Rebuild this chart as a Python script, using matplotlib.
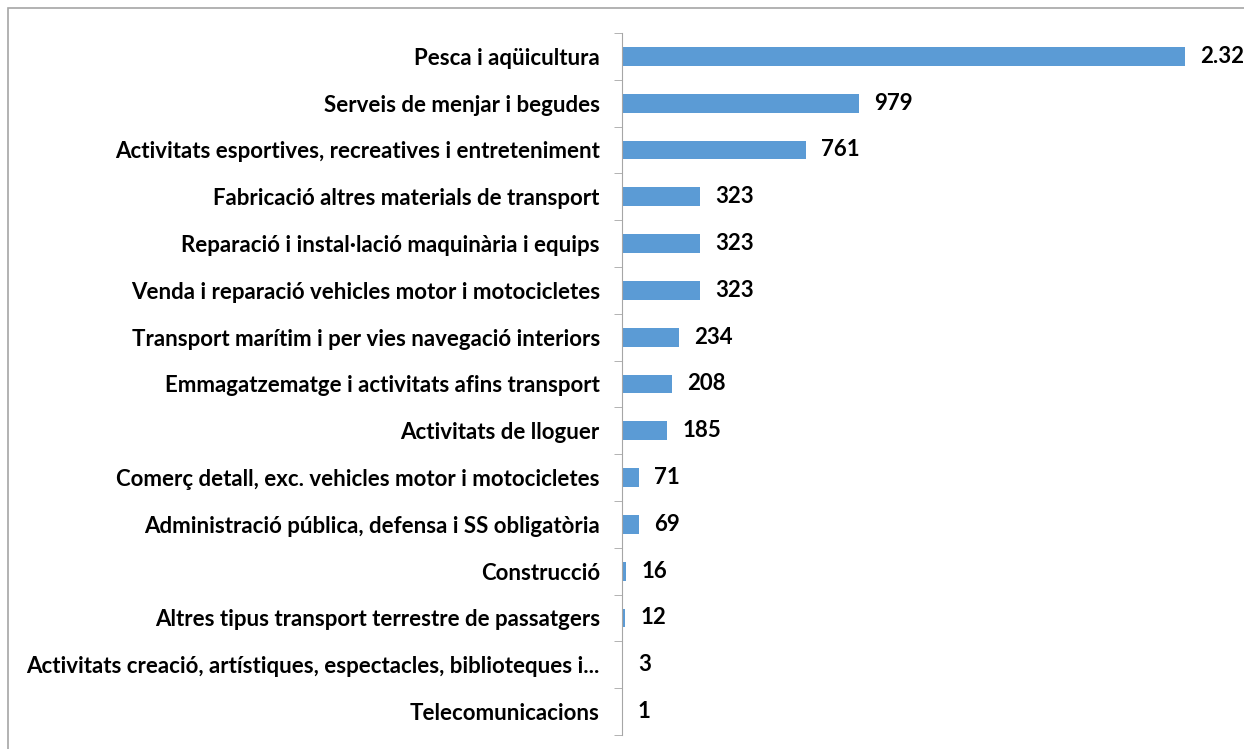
import matplotlib
matplotlib.use("Agg")
import matplotlib.pyplot as plt
from matplotlib.patches import Rectangle

categories = [
    "Pesca i aqüicultura",
    "Serveis de menjar i begudes",
    "Activitats esportives, recreatives i entreteniment",
    "Fabricació altres materials de transport",
    "Reparació i instal·lació maquinària i equips",
    "Venda i reparació vehicles motor i motocicletes",
    "Transport marítim i per vies navegació interiors",
    "Emmagatzematge i activitats afins transport",
    "Activitats de lloguer",
    "Comerç detall, exc. vehicles motor i motocicletes",
    "Administració pública, defensa i SS obligatòria",
    "Construcció",
    "Altres tipus transport terrestre de passatgers",
    "Activitats creació, artístiques, espectacles, biblioteques i...",
    "Telecomunicacions",
]
values = [2325, 979, 761, 323, 323, 323, 234, 208, 185, 71, 69, 16, 12, 3, 1]

plt.rcParams['font.family'] = ['Lato', 'DejaVu Sans']

fig = plt.figure(figsize=(12.44, 7.49), dpi=100)
fig.patches.append(Rectangle((8/1244, -0.1), 1.2, 1 - 8/749 + 0.1, transform=fig.transFigure,
                             fill=False, edgecolor='#A6A6A6', linewidth=1.2))

ax = fig.add_axes([622/1244, 14/749, 1 - 622/1244, (735 - 33) / 749])
n = len(categories)
pos = list(range(n))
ax.barh(pos, values, height=0.4, color='#5B9BD5')
ax.set_ylim(n - 0.5, -0.5)
ax.set_xlim(0, 2570)

ax.set_yticks(pos)
ax.set_yticklabels(categories, fontsize=16, fontweight='bold')
ax.tick_params(axis='y', length=0, pad=16)
ax.set_yticks([i - 0.5 for i in range(n + 1)], minor=True)
ax.tick_params(axis='y', which='minor', length=6, color='#A6A6A6')
ax.set_xticks([])
for s in ['top', 'right', 'bottom']:
    ax.spines[s].set_visible(False)
ax.spines['left'].set_color('#A6A6A6')

for i, v in enumerate(values):
    label = f"{v:,}".replace(",", ".")
    ax.annotate(label, (v, i), xytext=(11, 0), textcoords='offset points',
                va='center', ha='left', fontsize=16, fontweight='bold', annotation_clip=False)

fig.savefig("out.png", dpi=100)
